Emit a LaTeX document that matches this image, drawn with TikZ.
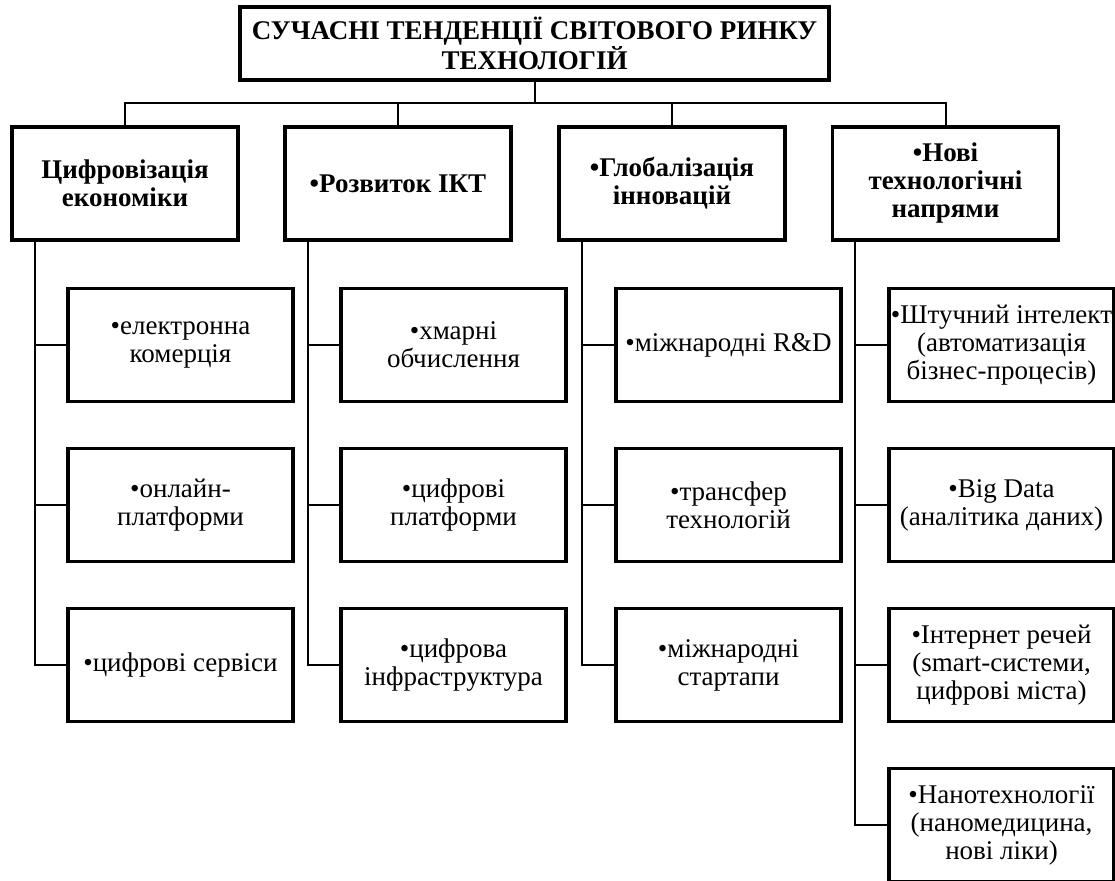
\documentclass[tikz,border=0pt]{standalone}
\usepackage{fontspec}
\setmainfont{Liberation Serif}

\begin{document}
\begin{tikzpicture}[x=1pt,y=-1pt,
    box/.style={draw,line width=3.5pt,inner sep=1pt,align=center,
      minimum width=225pt,minimum height=113pt,font=\fontsize{27}{28}\selectfont},
    head/.style={box,minimum width=226pt,font=\bfseries\fontsize{27}{28}\selectfont},
    link/.style={line width=2pt}]
  \fill[white] (0,0) rectangle (1115,880);
  \useasboundingbox (0,0) rectangle (1115,880);
  % title and the four trends
  \node[head,minimum width=589pt,minimum height=73pt](top)at(534.5,43.5){СУЧАСНІ ТЕНДЕНЦІЇ СВІТОВОГО РИНКУ\\ТЕХНОЛОГІЙ};
  \node[head](digit)at(125,183.5){Цифровізація\\економіки};
  \node[head](ict)at(398,183.5){•Розвиток ІКТ};
  \node[head](glob)at(672,183.5){•Глобалізація\\інновацій};
  \node[head](newtech)at(945.5,183.5){•Нові\\технологічні\\напрями};
  % first column
  \node[box](ecom)at(180.5,345){•електронна\\комерція};
  \node[box](online)at(180.5,505){•онлайн-\\платформи};
  \node[box](services)at(180.5,665){•цифрові сервіси};
  % second column
  \node[box](cloud)at(453.5,345){•хмарні\\обчислення};
  \node[box](platforms)at(453.5,505){•цифрові\\платформи};
  \node[box](infra)at(453.5,665){•цифрова\\інфраструктура};
  % third column
  \node[box](rnd)at(728.5,345){•міжнародні R\&D};
  \node[box](transfer)at(728.5,505){•трансфер\\технологій};
  \node[box](startups)at(728.5,665){•міжнародні\\стартапи};
  % fourth column
  \node[box](ai)at(1001.5,345){•Штучний інтелект\\(автоматизація\\бізнес-процесів)};
  \node[box](bigdata)at(1001.5,505){•Big Data\\(аналітика даних)};
  \node[box](iot)at(1001.5,665){•Інтернет речей\\(smart-системи,\\цифрові міста)};
  \node[box](nano)at(1001.5,825){•Нанотехнології\\(наномедицина,\\нові ліки)};
  % connectors
  \coordinate (bus) at (0,103);
  \coordinate (v1) at (35,0);
  \coordinate (v2) at (308,0);
  \coordinate (v3) at (582,0);
  \coordinate (v4) at (855,0);
  \draw[link] (top.south) -- (top.south |- bus);
  \draw[link] (digit.north) -- (digit.north |- bus) -- (newtech.north |- bus) -- (newtech.north);
  \draw[link] (ict.north) -- (ict.north |- bus);
  \draw[link] (glob.north) -- (glob.north |- bus);
  \draw[link] (digit.south -| v1) |- (services.west);
  \draw[link] (ecom.west) -- (ecom.west -| v1);
  \draw[link] (online.west) -- (online.west -| v1);
  \draw[link] (ict.south -| v2) |- (infra.west);
  \draw[link] (cloud.west) -- (cloud.west -| v2);
  \draw[link] (platforms.west) -- (platforms.west -| v2);
  \draw[link] (glob.south -| v3) |- (startups.west);
  \draw[link] (rnd.west) -- (rnd.west -| v3);
  \draw[link] (transfer.west) -- (transfer.west -| v3);
  \draw[link] (newtech.south -| v4) |- (nano.west);
  \draw[link] (ai.west) -- (ai.west -| v4);
  \draw[link] (bigdata.west) -- (bigdata.west -| v4);
  \draw[link] (iot.west) -- (iot.west -| v4);
\end{tikzpicture}
\end{document}
